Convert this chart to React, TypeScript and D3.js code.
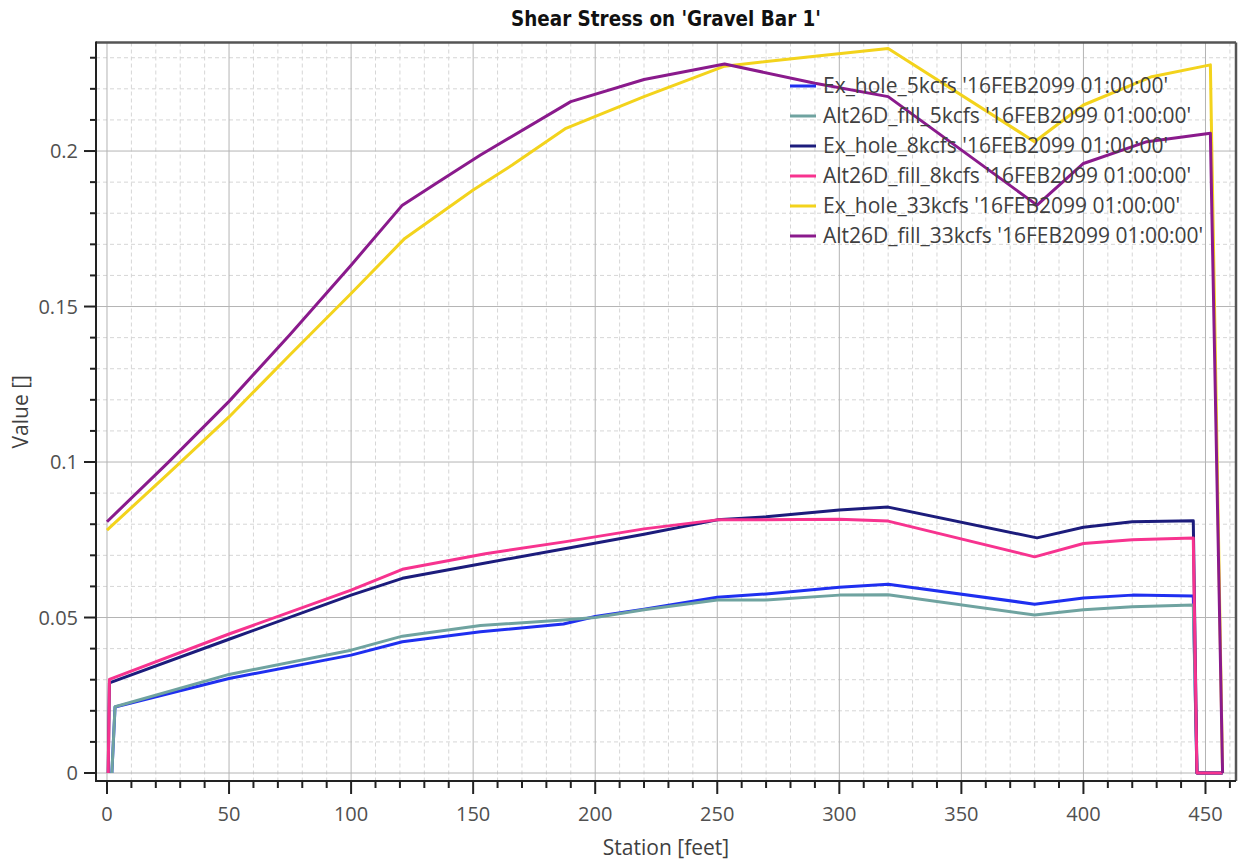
import React from "react";
import * as d3 from "d3";

// ---- Data ----
const seriesNames = [
  "Ex_hole_5kcfs",
  "Alt26D_fill_5kcfs",
  "Ex_hole_8kcfs",
  "Alt26D_fill_8kcfs",
  "Ex_hole_33kcfs",
  "Alt26D_fill_33kcfs",
];
const legendSuffix = " '16FEB2099 01:00:00'";
const seriesColors = ["#1f2ff0", "#6fa3a0", "#1c1c7c", "#f7338f", "#f3d31c", "#8a1a8c"];

const exHole5Stations = [2, 3.3, 50, 100, 121, 153, 187, 200, 220, 250, 270, 300, 320, 380, 400, 420, 445, 446.5, 457];
const exHole5Values = [0, 0.0212, 0.0304, 0.0379, 0.0422, 0.0454, 0.0479, 0.0503, 0.0527, 0.0565, 0.0576, 0.0597, 0.0607, 0.0543, 0.0563, 0.0572, 0.0569, 0, 0];

const alt5Stations = [2, 3.3, 50, 100, 121, 153, 187, 200, 220, 250, 270, 300, 320, 380, 400, 420, 445, 446.5, 457];
const alt5Values = [0, 0.0213, 0.0317, 0.0395, 0.044, 0.0474, 0.0492, 0.05, 0.0525, 0.0556, 0.0556, 0.0572, 0.0573, 0.0508, 0.0525, 0.0535, 0.054, 0, 0];

const exHole8Stations = [0.5, 1, 50, 100, 121, 150, 188, 220, 250, 270, 300, 320, 381, 400, 420, 445, 446.5, 457];
const exHole8Values = [0, 0.029, 0.043, 0.0572, 0.0626, 0.0668, 0.0722, 0.0768, 0.0814, 0.0824, 0.0846, 0.0855, 0.0756, 0.079, 0.0808, 0.0811, 0, 0];

const alt8Stations = [0.5, 1, 50, 100, 121, 155, 188, 220, 250, 300, 320, 380, 400, 420, 445, 446.5, 457];
const alt8Values = [0, 0.0301, 0.0447, 0.0588, 0.0655, 0.0705, 0.0744, 0.0785, 0.0814, 0.0816, 0.081, 0.0695, 0.0738, 0.075, 0.0756, 0, 0];

const exHole33Stations = [0, 25, 50, 75, 100, 122, 150, 166, 188, 220, 253, 290, 320, 380, 400, 428, 452, 457];
const exHole33Values = [0.0781, 0.0962, 0.1145, 0.1345, 0.1542, 0.1719, 0.1875, 0.1955, 0.2073, 0.2175, 0.2273, 0.2305, 0.233, 0.203, 0.2148, 0.2239, 0.2277, 0];

const alt33Stations = [0, 25, 50, 75, 100, 121, 137, 153, 190, 220, 253, 290, 320, 381, 400, 426, 452, 457];
const alt33Values = [0.0808, 0.0998, 0.1195, 0.141, 0.1633, 0.1826, 0.1907, 0.1987, 0.2159, 0.223, 0.228, 0.2218, 0.2175, 0.1826, 0.196, 0.203, 0.2057, 0];

const seriesStations = [exHole5Stations, alt5Stations, exHole8Stations, alt8Stations, exHole33Stations, alt33Stations];
const seriesValues = [exHole5Values, alt5Values, exHole8Values, alt8Values, exHole33Values, alt33Values];

const xMajorTicks = [0, 50, 100, 150, 200, 250, 300, 350, 400, 450];
const xMinorTicks = d3.range(0, 461, 10);
const yMajorTicks = [0, 0.05, 0.1, 0.15, 0.2];
const yMinorTicks = d3.range(0, 24).map((i) => i / 100);

const titleText = "Shear Stress on 'Gravel Bar 1'";
const xLabel = "Station [feet]";
const yLabel = "Value []";

// ---- Layout ----
const W = 1243;
const H = 864;
const plotLeft = 96;
const plotRight = 1236;
const plotTop = 42.5;
const plotBottom = 781;
const FONT = "'Open Sans', 'Noto Sans', sans-serif";

export default function App() {
  const x = d3.scaleLinear().domain([-4.5, 462.5]).range([plotLeft, plotRight]);
  const y = d3.scaleLinear().domain([-0.00257, 0.2349]).range([plotBottom, plotTop]);

  const lineGen = d3
    .line<[number, number]>()
    .x((d) => x(d[0]))
    .y((d) => y(d[1]));

  const isMajorX = (v: number) => xMajorTicks.includes(v);
  const isMajorY = (v: number) => yMajorTicks.some((m) => Math.abs(m - v) < 1e-9);

  const legendX = 790;
  const legendY0 = 86;
  const legendDy = 30;

  return (
    <svg
      width={W}
      height={H}
      style={{ position: "absolute", left: 0, top: 0, background: "#fff" }}
      fontFamily={FONT}
    >
      <rect x={0} y={0} width={W} height={H} fill="#fff" />
      {/* minor grid */}
      {xMinorTicks.filter((v) => !isMajorX(v)).map((v) => (
        <line key={"gx" + v} x1={x(v)} x2={x(v)} y1={plotTop} y2={plotBottom} stroke="#d6d6d6" strokeWidth={1} strokeDasharray="4,3" />
      ))}
      {yMinorTicks.filter((v) => !isMajorY(v)).map((v) => (
        <line key={"gy" + v} x1={plotLeft} x2={plotRight} y1={y(v)} y2={y(v)} stroke="#d6d6d6" strokeWidth={1} strokeDasharray="4,3" />
      ))}
      {/* major grid */}
      {xMajorTicks.map((v) => (
        <line key={"Gx" + v} x1={x(v)} x2={x(v)} y1={plotTop} y2={plotBottom} stroke="#b4b4b4" strokeWidth={1} />
      ))}
      {yMajorTicks.map((v) => (
        <line key={"Gy" + v} x1={plotLeft} x2={plotRight} y1={y(v)} y2={y(v)} stroke="#b4b4b4" strokeWidth={1} />
      ))}

      {/* series */}
      {seriesNames.map((name, i) => (
        <path
          key={name}
          d={lineGen(seriesStations[i].map((s, j) => [s, seriesValues[i][j]] as [number, number])) || ""}
          fill="none"
          stroke={seriesColors[i]}
          strokeWidth={3}
          strokeLinejoin="round"
        />
      ))}

      {/* frame */}
      <line x1={plotLeft} x2={plotRight} y1={plotTop} y2={plotTop} stroke="#555" strokeWidth={2.5} />
      <line x1={plotRight} x2={plotRight} y1={plotTop} y2={plotBottom} stroke="#555" strokeWidth={2.5} />
      <line x1={plotLeft} x2={plotLeft} y1={plotTop - 1} y2={plotBottom + 1} stroke="#222" strokeWidth={2} />
      <line x1={plotLeft - 1} x2={plotRight} y1={plotBottom} y2={plotBottom} stroke="#222" strokeWidth={2} />

      {/* x ticks */}
      {xMinorTicks.map((v) => (
        <line key={"tx" + v} x1={x(v)} x2={x(v)} y1={plotBottom} y2={plotBottom + (isMajorX(v) ? 13 : 7)} stroke="#222" strokeWidth={2} />
      ))}
      {xMajorTicks.map((v) => (
        <text key={"lx" + v} x={x(v)} y={821} textAnchor="middle" fontSize={20} fill="#505050">
          {d3.format("")(v)}
        </text>
      ))}
      {/* y ticks */}
      {yMinorTicks.map((v) => (
        <line key={"ty" + v} x1={plotLeft - (isMajorY(v) ? 12 : 6)} x2={plotLeft} y1={y(v)} y2={y(v)} stroke="#222" strokeWidth={2} />
      ))}
      {yMajorTicks.map((v) => (
        <text key={"ly" + v} x={78} y={y(v)} dy="0.35em" textAnchor="end" fontSize={20} fill="#505050">
          {String(v)}
        </text>
      ))}

      {/* legend */}
      {seriesNames.map((name, i) => (
        <g key={"lg" + name}>
          <line x1={legendX} x2={legendX + 26} y1={legendY0 + i * legendDy} y2={legendY0 + i * legendDy} stroke={seriesColors[i]} strokeWidth={3} />
          <text x={legendX + 33} y={legendY0 + i * legendDy} dy="0.35em" fontSize={21} fill="#404040">
            {name + legendSuffix}
          </text>
        </g>
      ))}

      {/* titles */}
      <text
        x={(plotLeft + plotRight) / 2}
        y={26}
        textAnchor="middle"
        fontSize={21}
        fontWeight="bold"
        fill="#111"
        textLength={310}
        lengthAdjust="spacingAndGlyphs"
        fontFamily="'DejaVu Sans Condensed', 'Open Sans', sans-serif"
      >
        {titleText}
      </text>
      <text x={(plotLeft + plotRight) / 2} y={855} textAnchor="middle" fontSize={21} fill="#404040">
        {xLabel}
      </text>
      <text transform={`translate(28, ${(plotTop + plotBottom) / 2}) rotate(-90)`} textAnchor="middle" fontSize={21} fill="#404040">
        {yLabel}
      </text>
    </svg>
  );
}
